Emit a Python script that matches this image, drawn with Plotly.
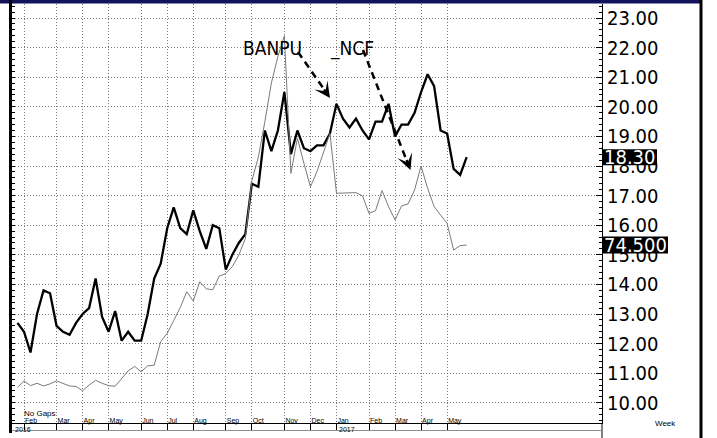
import pandas as pd
import plotly.graph_objects as go

# ---------------- data ----------------
dates = pd.date_range("2016-01-25", periods=70, freq="W-MON")

banpu = [12.7, 12.4, 11.7, 13.0, 13.8, 13.7, 12.6, 12.4, 12.3, 12.7,
         13.0, 13.2, 14.2, 12.9, 12.4, 13.1, 12.1, 12.4, 12.1, 12.1,
         13.0, 14.2, 14.7, 15.9, 16.6, 15.9, 15.7, 16.5, 15.8, 15.2,
         16.0, 15.9, 14.5, 15.0, 15.4, 15.7, 17.4, 17.3, 19.2, 18.5,
         19.2, 20.5, 18.4, 19.2, 18.6, 18.5, 18.7, 18.7, 19.1, 20.1,
         19.6, 19.3, 19.6, 19.2, 18.9, 19.5, 19.5, 20.1, 19.0, 19.4,
         19.4, 19.8, 20.5, 21.1, 20.7, 19.2, 19.1, 17.9, 17.7, 18.3]

ncf = [50.45, 51.55, 50.75, 51.15, 50.70, 51.05, 51.55, 51.15, 50.70, 50.60,
       49.90, 50.85, 51.65, 51.15, 50.75, 50.65, 51.95, 53.25, 54.00, 53.10,
       54.10, 54.20, 58.20, 59.60, 61.75, 63.95, 66.60, 65.05, 68.30, 67.10,
       66.95, 69.25, 69.70, 70.85, 72.80, 75.60, 85.35, 89.35, 95.35, 101.85,
       106.35, 109.85, 86.60, 92.55, 88.30, 84.35, 86.90, 90.25, 93.35, 83.25,
       83.25, 83.35, 83.35, 82.80, 79.85, 80.30, 83.70, 81.00, 78.75, 81.10,
       81.45, 83.80, 87.85, 84.10, 81.00, 79.55, 78.15, 73.65, 74.40, 74.50]

month_ticks = ["2016-02-01", "2016-03-07", "2016-04-04", "2016-05-02",
               "2016-06-06", "2016-07-04", "2016-08-01", "2016-09-05",
               "2016-10-03", "2016-11-07", "2016-12-05", "2017-01-02",
               "2017-02-06", "2017-03-06", "2017-04-03", "2017-05-01"]
month_labels = ["Feb", "Mar", "Apr", "May", "Jun", "Jul", "Aug", "Sep",
                "Oct", "Nov", "Dec", "Jan", "Feb", "Mar", "Apr", "May"]

price_levels = [10, 11, 12, 13, 14, 15, 16, 17, 18, 19, 20, 21, 22, 23]

banpu_last_label = "18.30"
ncf_last_label = "74.500"

# ---------------- layout geometry ----------------
W, H = 717, 438
L, R, T, B = 12, 602, 4, 423
Y_LO, Y_HI = 9.318, 23.473
Y2_LO, Y2_HI = 5 * Y_LO - 2.15, 5 * Y_HI - 2.15
t0 = pd.Timestamp("2016-02-01")
X_LO = t0 + pd.Timedelta(weeks=-1.843)
X_HI = t0 + pd.Timedelta(weeks=88.79)


def px(x):
    return (x - L) / (R - L)


def py(y):
    return (B - y) / (B - T)


def val_to_paper(v):
    """crisp (half-pixel) paper position of a value on the price scale"""
    pix = B - (v - Y_LO) / (Y_HI - Y_LO) * (B - T)
    pix = int(pix) + 0.5
    return py(pix)


BIG = "DejaVu Sans Condensed, Liberation Sans, sans-serif"
SMALL = "Liberation Sans, Arial, sans-serif"
GRID = "#7c7c7c"
GDASH = "1px,2px"

fig = go.Figure()
fig.add_trace(go.Scatter(x=dates, y=banpu, yaxis="y", mode="lines",
                         line=dict(color="black", width=2.3), name="BANPU",
                         showlegend=False))
fig.add_trace(go.Scatter(x=dates, y=ncf, yaxis="y2", mode="lines",
                         line=dict(color="#7a7a7a", width=1), name="_NCF",
                         showlegend=False))

shapes = []
# horizontal dotted grid at each price level
for v in price_levels:
    yy = val_to_paper(v)
    shapes.append(dict(type="line", xref="paper", yref="paper", layer="below",
                       x0=0, x1=1, y0=yy, y1=yy,
                       line=dict(color=GRID, width=1, dash=GDASH)))
# tick marks along the right price axis (every 0.2, longer at whole numbers)
k = 47
while k <= 117:
    v = k / 5.0
    yy = val_to_paper(v)
    length = 6 if k % 5 == 0 else 3
    shapes.append(dict(type="line", xref="paper", yref="paper",
                       x0=px(602 - length), x1=px(602), y0=yy, y1=yy,
                       line=dict(color="black", width=1)))
    k += 1

shapes.append(dict(type="rect", xref="paper", yref="paper",
                   x0=px(0), x1=px(700), y0=py(3.5), y1=py(0),
                   fillcolor="#13135c", line=dict(width=0)))
shapes.append(dict(type="line", xref="paper", yref="paper",
                   x0=px(10.5), x1=px(10.5), y0=py(0), y1=py(433),
                   line=dict(color="black", width=3)))
shapes.append(dict(type="line", xref="paper", yref="paper",
                   x0=px(701), x1=px(701), y0=py(0), y1=py(438),
                   line=dict(color="black", width=3)))
shapes.append(dict(type="line", xref="paper", yref="paper",
                   x0=px(602), x1=px(602), y0=py(423), y1=py(438),
                   line=dict(color="black", width=1)))
shapes.append(dict(type="line", xref="paper", yref="paper",
                   x0=px(12), x1=px(602), y0=py(430.5), y1=py(430.5),
                   line=dict(color="#909090", width=1)))
shapes.append(dict(type="line", xref="paper", yref="paper",
                   x0=px(298), y0=py(52), x1=px(323.5), y1=py(88.5),
                   line=dict(color="black", width=2.5, dash="7px,5px")))
shapes.append(dict(type="line", xref="paper", yref="paper",
                   x0=px(363), y0=py(50), x1=px(406.3), y1=py(159.5),
                   line=dict(color="black", width=2.5, dash="7px,5px")))

yb1 = (18.30 - Y_LO) / (Y_HI - Y_LO)
yb2 = (74.5 - Y2_LO) / (Y2_HI - Y2_LO)
hp = 1.0 / (B - T)
shapes.append(dict(type="rect", xref="paper", yref="paper",
                   x0=px(603), x1=px(657), y0=yb1 - 8 * hp, y1=yb1 + 8 * hp,
                   fillcolor="black", line=dict(width=0), layer="above"))
shapes.append(dict(type="rect", xref="paper", yref="paper",
                   x0=px(603), x1=px(668), y0=yb2 - 8.5 * hp, y1=yb2 + 8.5 * hp,
                   fillcolor="black", line=dict(width=0), layer="above"))

annotations = [
    dict(text="BANPU", x=px(272.5), y=py(35), xref="paper", yref="paper",
         showarrow=False, font=dict(family=BIG, size=19, color="black")),
    dict(text="_NCF", x=px(352.5), y=py(35), xref="paper", yref="paper",
         showarrow=False, font=dict(family=BIG, size=19, color="black")),
    dict(text="No Gaps", x=px(22), y=py(419.5), xref="paper", yref="paper",
         xanchor="left", showarrow=False,
         font=dict(family=SMALL, size=8, color="black")),
    dict(text="Week", x=px(678), y=py(430), xref="paper", yref="paper",
         showarrow=False, font=dict(family=SMALL, size=8, color="black")),
    dict(text="2016", x=px(13), y=py(435), xref="paper", yref="paper",
         xanchor="left", showarrow=False,
         font=dict(family=SMALL, size=7, color="black")),
    dict(text="2017", x=px(337), y=py(435), xref="paper", yref="paper",
         xanchor="left", showarrow=False,
         font=dict(family=SMALL, size=7, color="black")),
    dict(text=banpu_last_label, x=px(603), y=yb1, xref="paper", yref="paper",
         xanchor="left", showarrow=False, borderpad=0,
         font=dict(family=BIG, size=20, color="white")),
    dict(text=ncf_last_label, x=px(603), y=yb2, xref="paper", yref="paper",
         xanchor="left", showarrow=False, borderpad=0,
         font=dict(family=BIG, size=20, color="white")),
    dict(text="", x=px(330), y=py(98), xref="paper", yref="paper",
         showarrow=True, arrowhead=3, arrowsize=1.15, arrowwidth=2.3,
         arrowcolor="black", ax=-7, ay=-10, standoff=0),
    dict(text="", x=px(410.5), y=py(170), xref="paper", yref="paper",
         showarrow=True, arrowhead=3, arrowsize=1.15, arrowwidth=2.3,
         arrowcolor="black", ax=-4.5, ay=-11.5, standoff=0),
]

fig.update_layout(
    width=W, height=H,
    margin=dict(l=L, r=W - R, t=T, b=H - B, pad=0),
    paper_bgcolor="white", plot_bgcolor="white",
    showlegend=False,
    shapes=shapes,
    annotations=annotations,
    xaxis=dict(
        type="date", range=[X_LO, X_HI],
        tickmode="array", tickvals=month_ticks, ticktext=month_labels,
        ticks="outside", ticklen=7, tickcolor="black", tickwidth=1,
        ticklabelposition="outside right", ticklabelstandoff=-9,
        tickfont=dict(family=SMALL, size=7, color="black"),
        showline=True, linecolor="black", linewidth=1,
        showgrid=True, gridcolor=GRID, gridwidth=1, griddash=GDASH,
        zeroline=False, automargin=False, fixedrange=True,
    ),
    yaxis=dict(
        side="right", range=[Y_LO, Y_HI],
        tickmode="array", tickvals=price_levels,
        ticktext=[f"{v:.2f}" for v in price_levels],
        ticks="", showgrid=False,
        tickfont=dict(family=BIG, size=20, color="black"),
        showline=True, linecolor="black", linewidth=1,
        zeroline=False, automargin=False, fixedrange=True,
    ),
    # NCF overlay scale; its ticks (one per 0.2 of the main scale) sit on the left edge
    yaxis2=dict(overlaying="y", side="left", range=[Y2_LO, Y2_HI],
                tickmode="linear", tick0=0.85, dtick=1,
                ticks="inside", ticklen=3, tickcolor="black",
                showticklabels=False, showgrid=False, showline=False,
                zeroline=False, fixedrange=True),
)

fig.write_html("out.html", config={"displayModeBar": False},
               post_script="document.body.style.margin='0';")
